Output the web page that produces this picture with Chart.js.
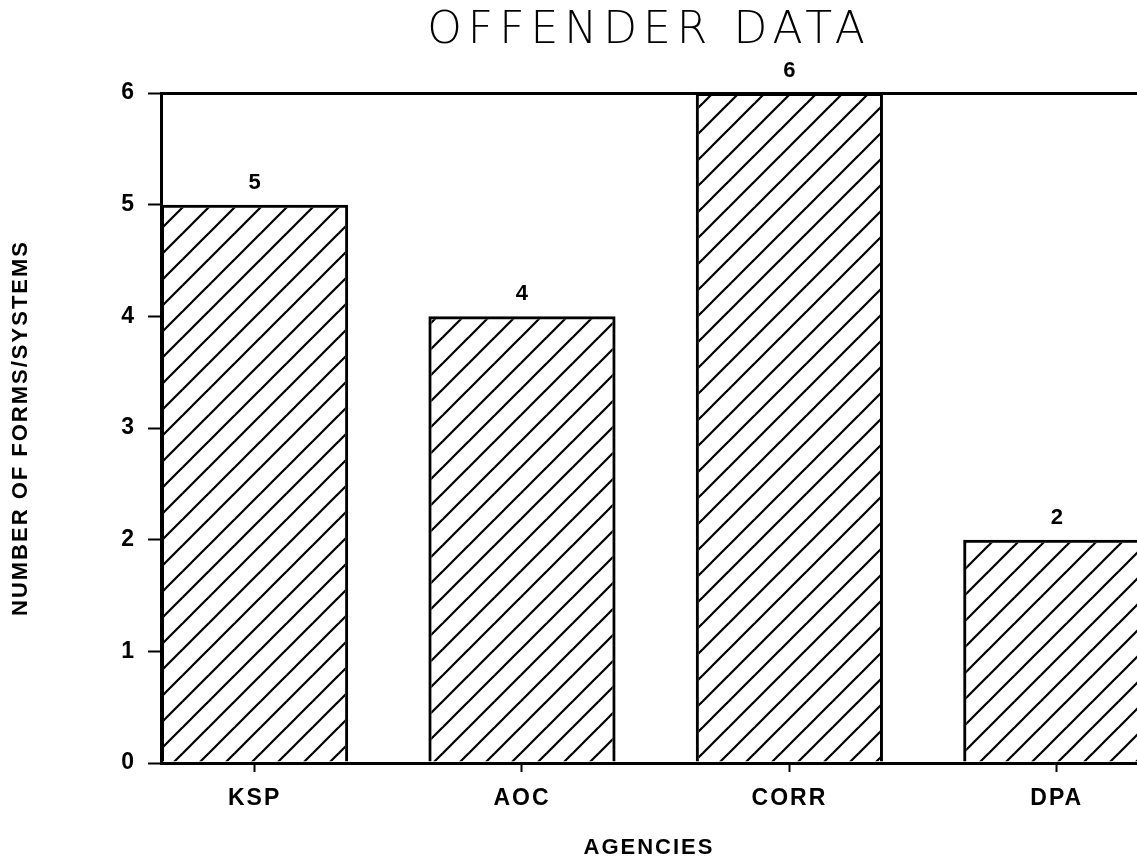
<!DOCTYPE html>
<html>
<head>
<meta charset="utf-8">
<title>Offender Data</title>
<script src="https://cdn.jsdelivr.net/npm/chart.js@4/dist/chart.umd.min.js"></script>
<style>
  html, body { margin: 0; padding: 0; background: #fff; overflow: hidden; }
  canvas { display: block; }
</style>
</head>
<body>
<canvas id="chart-offender" width="1137" height="858"></canvas>
<script>
  // data
  var categories = ['KSP', 'AOC', 'CORR', 'DPA'];
  var formCounts = [5, 4, 6, 2];
  var yTicks = [0, 1, 2, 3, 4, 5, 6];
  var titleText = 'OFFENDER DATA';
  var xTitleText = 'AGENCIES';
  var yTitleText = 'NUMBER OF FORMS/SYSTEMS';

  var BOLD = '"Liberation Sans", Arial, sans-serif';
  var THIN = '"DejaVu Sans", sans-serif';

  /** "/" hatch fill like the plotter output */
  function makeHatch() {
    var t = 26;
    var c = document.createElement('canvas');
    c.width = t;
    c.height = t;
    var g = c.getContext('2d');
    g.strokeStyle = '#000';
    g.lineWidth = 2.2;
    [-t, 0, t].forEach(function(o) {
      g.beginPath();
      g.moveTo(o - 1, t + 1);
      g.lineTo(o + t + 1, -1);
      g.stroke();
    });
    return document.getElementById('chart-offender').getContext('2d').createPattern(c, 'repeat');
  }

  // plotter lettering is spaced out a bit, the title more so
  var spacing = {
    id: 'plotterSpacing',
    beforeUpdate: function(c) { c.ctx.letterSpacing = '2px'; },
    beforeDraw: function(c) {
      c.ctx.letterSpacing = '2px';
      var tb = c.titleBlock;
      if (tb && !tb._spaced) {
        var orig = tb.draw;
        tb.draw = function() {
          this.ctx.save();
          this.ctx.letterSpacing = '6px';
          orig.apply(this, arguments);
          this.ctx.restore();
        };
        tb._spaced = true;
      }
    }
  };

  // numbers above each bar
  var valueLabels = {
    id: 'valueLabels',
    afterDatasetsDraw: function(c) {
      var ctx = c.ctx;
      var bars = c.getDatasetMeta(0).data;
      ctx.save();
      ctx.font = 'bold 22px ' + BOLD;
      ctx.fillStyle = '#000';
      ctx.textAlign = 'center';
      ctx.textBaseline = 'middle';
      bars.forEach(function(b, i) {
        ctx.fillText(String(formCounts[i]), b.x + 1, b.y - 22);
      });
      ctx.restore();
    }
  };

  new Chart(document.getElementById('chart-offender'), {
    type: 'bar',
    data: {
      datasets: [{
        data: formCounts.map(function(v, i) { return { x: i, y: v }; }),
        backgroundColor: makeHatch(),
        borderColor: '#000',
        borderWidth: 3,
        borderSkipped: 'bottom',
        barPercentage: 1,
        categoryPercentage: 0.7
      }]
    },
    options: {
      responsive: false,
      animation: false,
      layout: { padding: 0 },
      plugins: {
        legend: { display: false },
        tooltip: { enabled: false },
        title: {
          display: true,
          text: titleText,
          fullSize: false,
          color: '#000',
          font: { family: THIN, size: 44, weight: 200, lineHeight: 1 },
          padding: { top: 10, bottom: 39 }
        }
      },
      scales: {
        x: {
          type: 'linear',
          offset: false,
          min: -0.35,
          max: 3.3,
          afterBuildTicks: function(s) {
            s.ticks = categories.map(function(c, i) { return { value: i }; });
          },
          afterFit: function(s) { s.height = 95; },
          grid: { offset: false, drawOnChartArea: false, tickColor: '#000', tickLength: 9, tickWidth: 2 },
          border: { color: '#000', width: 3 },
          ticks: {
            color: '#000',
            autoSkip: false,
            maxRotation: 0,
            padding: 13,
            font: { family: BOLD, size: 23, weight: 'bold' },
            callback: function(v) { return categories[v]; }
          },
          title: {
            display: true,
            text: xTitleText,
            color: '#000',
            font: { family: BOLD, size: 22, weight: 'bold' },
            padding: { top: 0, bottom: -3 }
          }
        },
        y: {
          min: 0,
          max: 6,
          afterBuildTicks: function(s) {
            s.ticks = yTicks.map(function(v) { return { value: v }; });
          },
          afterFit: function(s) { s.width = 161; },
          grid: {
            color: function(ctx) { return ctx.tick && ctx.tick.value === 6 ? '#000' : 'rgba(0,0,0,0)'; },
            lineWidth: 3,
            tickColor: '#000',
            tickLength: 13,
            tickWidth: 2
          },
          border: { color: '#000', width: 3 },
          ticks: {
            color: '#000',
            padding: 12,
            font: { family: BOLD, size: 23, weight: 'bold' }
          },
          title: {
            display: true,
            text: yTitleText,
            color: '#000',
            font: { family: BOLD, size: 22, weight: 'bold' },
            padding: { top: 8, bottom: 0 }
          }
        }
      }
    },
    plugins: [spacing, valueLabels]
  });
</script>
</body>
</html>
